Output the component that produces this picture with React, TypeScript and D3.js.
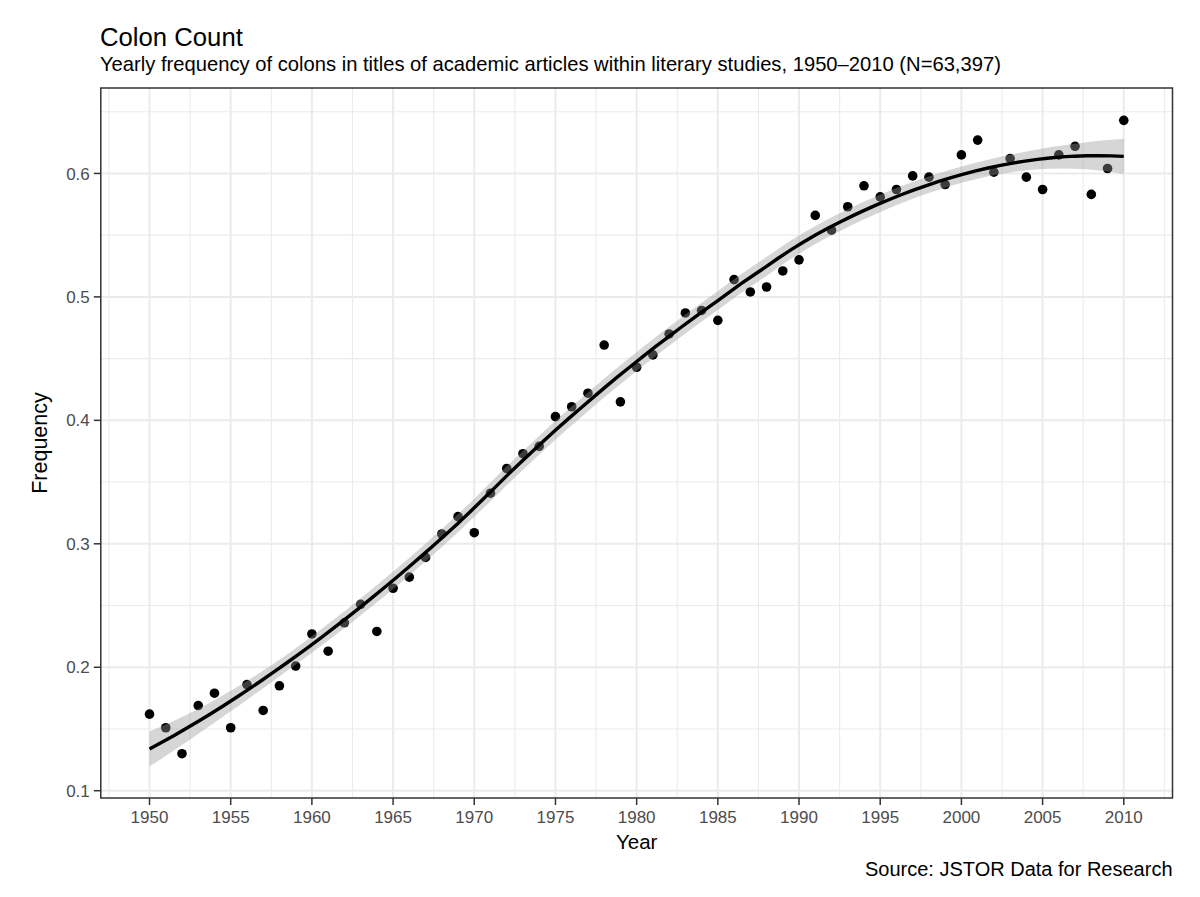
import React from 'react';
import * as d3 from 'd3';

const years: number[] = [
  1950, 1951, 1952, 1953, 1954, 1955, 1956, 1957, 1958, 1959,
  1960, 1961, 1962, 1963, 1964, 1965, 1966, 1967, 1968, 1969,
  1970, 1971, 1972, 1973, 1974, 1975, 1976, 1977, 1978, 1979,
  1980, 1981, 1982, 1983, 1984, 1985, 1986, 1987, 1988, 1989,
  1990, 1991, 1992, 1993, 1994, 1995, 1996, 1997, 1998, 1999,
  2000, 2001, 2002, 2003, 2004, 2005, 2006, 2007, 2008, 2009,
  2010,
];

const frequency: number[] = [
  0.162, 0.151, 0.130, 0.169, 0.179, 0.151, 0.186, 0.165, 0.185, 0.201,
  0.227, 0.213, 0.236, 0.251, 0.229, 0.264, 0.273, 0.289, 0.308, 0.322,
  0.309, 0.341, 0.361, 0.373, 0.379, 0.403, 0.411, 0.422, 0.461, 0.415,
  0.443, 0.453, 0.470, 0.487, 0.489, 0.481, 0.514, 0.504, 0.508, 0.521,
  0.530, 0.566, 0.554, 0.573, 0.590, 0.581, 0.587, 0.598, 0.597, 0.591,
  0.615, 0.627, 0.601, 0.612, 0.597, 0.587, 0.615, 0.622, 0.583, 0.604,
  0.643,
];

const xTicks: number[] = [1950, 1955, 1960, 1965, 1970, 1975, 1980, 1985, 1990, 1995, 2000, 2005, 2010];
const xMinor: number[] = [1947.5, 1952.5, 1957.5, 1962.5, 1967.5, 1972.5, 1977.5, 1982.5, 1987.5, 1992.5, 1997.5, 2002.5, 2007.5, 2012.5];
const yTicks: number[] = [0.1, 0.2, 0.3, 0.4, 0.5, 0.6];
const yMinor: number[] = [0.15, 0.25, 0.35, 0.45, 0.55, 0.65];

const titleText = 'Colon Count';
const subtitleText = 'Yearly frequency of colons in titles of academic articles within literary studies, 1950\u20132010 (N=63,397)';
const xLabel = 'Year';
const yLabel = 'Frequency';
const captionText = 'Source: JSTOR Data for Research';

const W = 1200;
const H = 897;
const P = { left: 100.8, right: 1172.5, top: 88, bottom: 798 };
const FONT = '"Liberation Sans", Arial, Helvetica, sans-serif';

function inv3(m: number[][]): number[][] {
  const [a, b, c] = m[0];
  const [d, e, f] = m[1];
  const [g, h, i] = m[2];
  const A = e * i - f * h, B = -(d * i - f * g), C = d * h - e * g;
  const det = a * A + b * B + c * C;
  return [
    [A / det, -(b * i - c * h) / det, (b * f - c * e) / det],
    [B / det, (a * i - c * g) / det, -(a * f - c * d) / det],
    [C / det, -(a * h - b * g) / det, (a * e - b * d) / det],
  ];
}

// local quadratic loess operator row (span 0.75, tricube weights)
function loessRow(xs: number[], x0: number, span: number): number[] {
  const n = xs.length;
  const q = Math.floor(n * span);
  const dist = xs.map((x) => Math.abs(x - x0));
  const h = [...dist].sort((a, b) => a - b)[q - 1];
  const w = dist.map((di) => {
    const u = di / h;
    return u < 1 ? Math.pow(1 - u * u * u, 3) : 0;
  });
  const X = xs.map((x) => {
    const t = (x - x0) / h;
    return [1, t, t * t];
  });
  const M = [[0, 0, 0], [0, 0, 0], [0, 0, 0]];
  for (let j = 0; j < n; j++)
    for (let a = 0; a < 3; a++)
      for (let b = 0; b < 3; b++) M[a][b] += w[j] * X[j][a] * X[j][b];
  const Mi = inv3(M);
  return X.map((r, j) => w[j] * (Mi[0][0] * r[0] + Mi[0][1] * r[1] + Mi[0][2] * r[2]));
}

function tQuantile975(df: number): number {
  const z = 1.959964;
  return z + (z ** 3 + z) / (4 * df) + (5 * z ** 5 + 16 * z ** 3 + 3 * z) / (96 * df * df);
}

function smooth(xs: number[], ys: number[], span = 0.75, nOut = 80) {
  const n = xs.length;
  const L = xs.map((x) => loessRow(xs, x, span));
  const fitted = L.map((r) => d3.sum(r.map((l, j) => l * ys[j])));
  const rss = d3.sum(ys.map((y, i) => (y - fitted[i]) ** 2));
  const R = L.map((r, i) => r.map((l, j) => (i === j ? 1 : 0) - l));
  const Mtx: number[][] = [];
  for (let i = 0; i < n; i++) {
    Mtx.push([]);
    for (let j = 0; j < n; j++) {
      let s = 0;
      for (let k = 0; k < n; k++) s += R[k][i] * R[k][j];
      Mtx[i].push(s);
    }
  }
  let one = 0, two = 0;
  for (let i = 0; i < n; i++) {
    one += Mtx[i][i];
    for (let j = 0; j < n; j++) two += Mtx[i][j] * Mtx[j][i];
  }
  const sigma = Math.sqrt(rss / one);
  const tq = tQuantile975((one * one) / two);
  const x0 = d3.min(xs) as number, x1 = d3.max(xs) as number;
  return d3.range(nOut).map((k) => {
    const xg = x0 + ((x1 - x0) * k) / (nOut - 1);
    const l = loessRow(xs, xg, span);
    const fit = d3.sum(l.map((v, j) => v * ys[j]));
    const se = sigma * Math.sqrt(d3.sum(l.map((v) => v * v)));
    return { x: xg, y: fit, lo: fit - tq * se, hi: fit + tq * se };
  });
}

export default function App() {
  const x = d3.scaleLinear().domain([1947, 2013]).range([P.left, P.right]);
  const y = d3.scaleLinear().domain([0.0941, 0.6692]).range([P.bottom, P.top]);
  const sm = smooth(years, frequency);
  const area = d3.area<{ x: number; lo: number; hi: number }>()
    .x((d) => x(d.x)).y0((d) => y(d.lo)).y1((d) => y(d.hi));
  const line = d3.line<{ x: number; y: number }>().x((d) => x(d.x)).y((d) => y(d.y));
  const grid = '#ebebeb';
  const axisCol = '#333333';
  const tickText = '#4d4d4d';

  return (
    <div style={{ position: 'absolute', left: 0, top: 0 }}>
      <svg width={W} height={H} style={{ display: 'block', background: '#fff' }}>
        <rect x={0} y={0} width={W} height={H} fill="#fff" />
        <text x={100} y={45.5} fontFamily={FONT} fontSize={25.7} fill="#000">{titleText}</text>
        <text x={100} y={70.5} fontFamily={FONT} fontSize={20.2} fill="#000">{subtitleText}</text>

        {xMinor.map((v) => (
          <line key={'xm' + v} x1={x(v)} x2={x(v)} y1={P.top} y2={P.bottom} stroke={grid} strokeWidth={1.1} />
        ))}
        {yMinor.map((v) => (
          <line key={'ym' + v} x1={P.left} x2={P.right} y1={y(v)} y2={y(v)} stroke={grid} strokeWidth={1.1} />
        ))}
        {xTicks.map((v) => (
          <line key={'xg' + v} x1={x(v)} x2={x(v)} y1={P.top} y2={P.bottom} stroke={grid} strokeWidth={2} />
        ))}
        {yTicks.map((v) => (
          <line key={'yg' + v} x1={P.left} x2={P.right} y1={y(v)} y2={y(v)} stroke={grid} strokeWidth={2} />
        ))}

        {years.map((yr, i) => (
          <circle key={'p' + yr} cx={x(yr)} cy={y(frequency[i])} r={4.8} fill="#000" />
        ))}
        <path d={area(sm) || ''} fill="#999999" fillOpacity={0.4} />
        <path d={line(sm) || ''} fill="none" stroke="#000" strokeWidth={3.4} />

        <rect x={P.left} y={P.top} width={P.right - P.left} height={P.bottom - P.top} fill="none" stroke={axisCol} strokeWidth={1.5} />

        {xTicks.map((v) => (
          <g key={'xt' + v}>
            <line x1={x(v)} x2={x(v)} y1={P.bottom} y2={P.bottom + 7} stroke={axisCol} strokeWidth={1.5} />
            <text x={x(v)} y={822.5} textAnchor="middle" fontFamily={FONT} fontSize={17} fill={tickText}>{String(v)}</text>
          </g>
        ))}
        {yTicks.map((v) => (
          <g key={'yt' + v}>
            <line x1={P.left - 7} x2={P.left} y1={y(v)} y2={y(v)} stroke={axisCol} strokeWidth={1.5} />
            <text x={P.left - 11} y={y(v)} dy="0.36em" textAnchor="end" fontFamily={FONT} fontSize={17} fill={tickText}>{d3.format('.1f')(v)}</text>
          </g>
        ))}

        <text x={(P.left + P.right) / 2} y={849} textAnchor="middle" fontFamily={FONT} fontSize={20.5} fill="#000">{xLabel}</text>
        <text transform={`translate(46.5, ${(P.top + P.bottom) / 2}) rotate(-90)`} textAnchor="middle" fontFamily={FONT} fontSize={21.5} fill="#000">{yLabel}</text>
        <text x={P.right} y={875.5} textAnchor="end" fontFamily={FONT} fontSize={20} fill="#000">{captionText}</text>
      </svg>
    </div>
  );
}
